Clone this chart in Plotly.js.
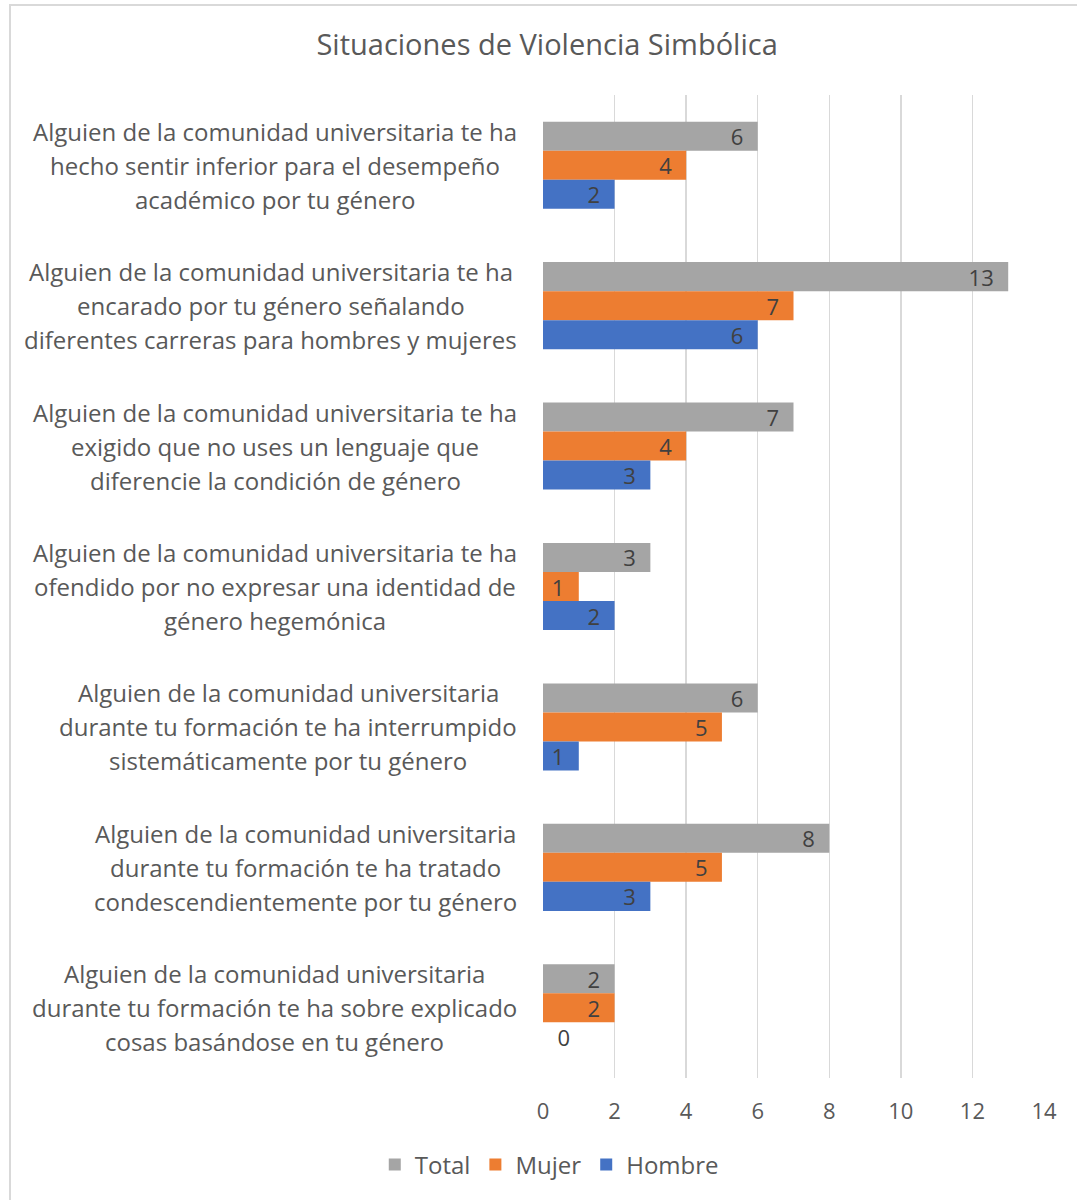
<!DOCTYPE html>
<html>
<head>
<meta charset="utf-8">
<script src="https://cdn.plot.ly/plotly-3.0.1.min.js"></script>
<style>
  html, body { margin: 0; padding: 0; background: #ffffff; }
  #chart { width: 1077px; height: 1200px; position: absolute; left: 0; top: 0; }
  #frame { position: absolute; left: 9px; top: 4px; width: 1200px; height: 1300px;
           border-left: 2px solid #d9d9d9; border-top: 2px solid #d9d9d9; pointer-events: none; }
</style>
</head>
<body>
<div id="chart"></div>
<div id="frame"></div>
<script>
// ---- data ----
var categories = [
  "Alguien de la comunidad universitaria te ha hecho sentir inferior para el desempeño académico por tu género",
  "Alguien de la comunidad universitaria te ha encarado por tu género señalando diferentes carreras para hombres y mujeres",
  "Alguien de la comunidad universitaria te ha exigido que no uses un lenguaje que diferencie la condición de género",
  "Alguien de la comunidad universitaria te ha ofendido por no expresar una identidad de género hegemónica",
  "Alguien de la comunidad universitaria durante tu formación te ha interrumpido sistemáticamente por tu género",
  "Alguien de la comunidad universitaria durante tu formación te ha tratado condescendientemente por tu género",
  "Alguien de la comunidad universitaria durante tu formación te ha sobre explicado cosas basándose en tu género"
];
var categoryLines = [
  ["Alguien de la comunidad universitaria te ha", "hecho sentir inferior para el desempeño", "académico por tu género"],
  ["Alguien de la comunidad universitaria te ha", "encarado por tu género señalando", "diferentes carreras para hombres y mujeres"],
  ["Alguien de la comunidad universitaria te ha", "exigido que no uses un lenguaje que", "diferencie la condición de género"],
  ["Alguien de la comunidad universitaria te ha", "ofendido por no expresar una identidad de", "género hegemónica"],
  ["Alguien de la comunidad universitaria", "durante tu formación te ha interrumpido", "sistemáticamente por tu género"],
  ["Alguien de la comunidad universitaria", "durante tu formación te ha tratado", "condescendientemente por tu género"],
  ["Alguien de la comunidad universitaria", "durante tu formación te ha sobre explicado", "cosas basándose en tu género"]
];
var total  = [6, 13, 7, 3, 6, 8, 2];
var mujer  = [4, 7, 4, 1, 5, 5, 2];
var hombre = [2, 6, 3, 2, 1, 3, 0];
var seriesNames = ["Total", "Mujer", "Hombre"];
var xTicks = [0, 2, 4, 6, 8, 10, 12, 14];

// ---- style ----
var colors = ["#A5A5A5", "#ED7D31", "#4472C4"];
var FONT = "Open Sans, Liberation Sans, sans-serif";
var LABEL_SIZE = 24;
var VALUE_SIZE = 22;
var W = 1077, H = 1200;
var M = { l: 543, r: 33, t: 95, b: 122 };
var plotW = W - M.l - M.r;
var labelRight = 517;     // px, right edge of category label blocks
var lineStep = 34;        // px between label lines

function makeTrace(name, vals, color) {
  var f = { family: FONT, size: VALUE_SIZE, color: "#404040" };
  return {
    type: "bar",
    orientation: "h",
    name: name,
    x: vals,
    y: categories,
    marker: { color: color, line: { width: 0 } },
    text: vals.map(function (v) { return v > 0 ? v + "\u00a0\u00a0" : "\u00a0\u00a0" + v; }),
    textposition: vals.map(function (v) { return v > 0 ? "inside" : "outside"; }),
    textangle: 0,
    insidetextanchor: "end",
    constraintext: "none",
    cliponaxis: false,
    textfont: f, insidetextfont: f, outsidetextfont: f,
    hoverinfo: "x+name"
  };
}

var data = [
  makeTrace(seriesNames[0], total, colors[0]),
  makeTrace(seriesNames[1], mujer, colors[1]),
  makeTrace(seriesNames[2], hombre, colors[2])
];

// measure label text to centre each block against the right edge
var ctx = document.createElement("canvas").getContext("2d");
ctx.font = LABEL_SIZE + "px Open Sans";
var annotations = [];
categoryLines.forEach(function (lines, i) {
  var maxW = 0;
  lines.forEach(function (s) { maxW = Math.max(maxW, ctx.measureText(s).width); });
  var cx = labelRight - maxW / 2;
  var n = lines.length;
  lines.forEach(function (s, j) {
    annotations.push({
      xref: "paper", yref: "y",
      x: (cx - M.l) / plotW, y: categories[i],
      xanchor: "center", yanchor: "middle",
      yshift: -(j - (n - 1) / 2) * lineStep,
      text: s, showarrow: false,
      font: { family: FONT, size: LABEL_SIZE, color: "#595959" }
    });
  });
});

var layout = {
  width: W, height: H,
  margin: M,
  paper_bgcolor: "rgba(0,0,0,0)",
  plot_bgcolor: "rgba(0,0,0,0)",
  barmode: "group",
  bargap: 0.38,
  bargroupgap: 0,
  title: {
    text: "Situaciones de Violencia Simbólica",
    x: 0.508, xanchor: "center",
    y: 1 - 45 / H, yanchor: "middle",
    font: { family: FONT, size: 29, color: "#595959" }
  },
  xaxis: {
    range: [0, 14],
    tickvals: xTicks,
    ticktext: xTicks.map(String),
    showgrid: true, gridcolor: "#d9d9d9", gridwidth: 1.5,
    zeroline: false, showline: false,
    ticks: "", ticklabelstandoff: 18,
    tickfont: { family: FONT, size: 22, color: "#595959" },
    fixedrange: true
  },
  yaxis: {
    type: "category",
    autorange: "reversed",
    showticklabels: false,
    showgrid: false, zeroline: false, showline: false,
    ticks: "",
    fixedrange: true
  },
  showlegend: true,
  legend: {
    orientation: "h",
    xref: "container", yref: "container",
    x: 0.51, xanchor: "center",
    y: 1 - 1165 / H, yanchor: "middle",
    font: { family: FONT, size: 24, color: "#595959" },
    itemwidth: 30,
    traceorder: "normal"
  },
  annotations: annotations
};

Plotly.newPlot("chart", data, layout, { displayModeBar: false, staticPlot: true });
</script>
</body>
</html>
